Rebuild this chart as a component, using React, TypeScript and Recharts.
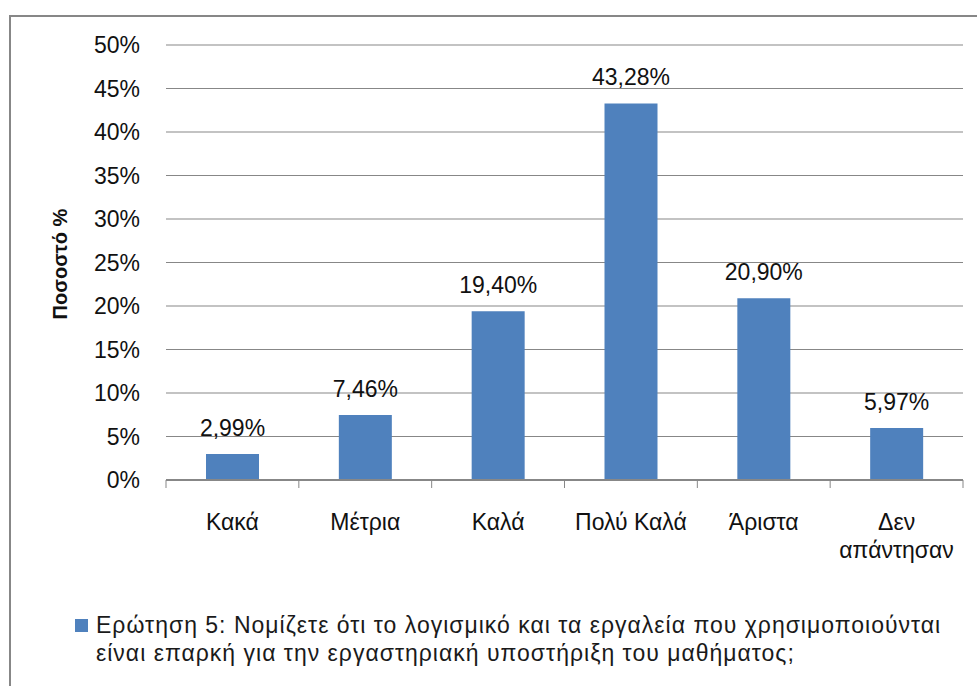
import React from 'react';
import {
  BarChart,
  Bar,
  XAxis,
  YAxis,
  CartesianGrid,
  LabelList,
} from 'recharts';

const categories = ['Κακά', 'Μέτρια', 'Καλά', 'Πολύ Καλά', 'Άριστα', 'Δεν απάντησαν'];
const percentages = [2.99, 7.46, 19.4, 43.28, 20.9, 5.97];
const yTicks = [0, 5, 10, 15, 20, 25, 30, 35, 40, 45, 50];
const seriesName =
  'Ερώτηση 5: Νομίζετε ότι το λογισμικό και τα εργαλεία που χρησιμοποιούνται είναι επαρκή για την εργαστηριακή υποστήριξη του μαθήματος;';
const yTitle = 'Ποσοστό %';

const data = categories.map((cat, i) => ({ cat, value: percentages[i] }));

const W = 977;
const H = 686;
const AXIS_W = 166;
const RIGHT = 14;
const BAND = (W - AXIS_W - RIGHT) / categories.length;
const FONT = '"Liberation Sans", Arial, sans-serif';
const GRID = '#878787';
const BLUE = '#4F81BD';

const fmt = (v: number) => v.toFixed(2).replace('.', ',') + '%';

// long labels go on two lines, like the original
const wrap = (s: string) => (s.length > 12 ? s.split(' ') : [s]);

function CategoryTick(props: any) {
  const { x, y, payload, index } = props;
  const left = x - BAND / 2;
  const lines = wrap(String(payload.value));
  return (
    <g>
      <line x1={left} x2={left} y1={y} y2={y + 8} stroke={GRID} strokeWidth={1} />
      {index === categories.length - 1 && (
        <line x1={x + BAND / 2} x2={x + BAND / 2} y1={y} y2={y + 8} stroke={GRID} strokeWidth={1} />
      )}
      <text
        x={x}
        y={y + 50}
        textAnchor="middle"
        fontSize={23}
        fontFamily={FONT}
        fill="#111"
      >
        {lines.map((ln, i) => (
          <tspan key={i} x={x} dy={i === 0 ? 0 : 28}>
            {ln}
          </tspan>
        ))}
      </text>
    </g>
  );
}

export default function App() {
  return (
    <div
      style={{
        position: 'absolute',
        left: 0,
        top: 0,
        width: W,
        height: H,
        overflow: 'hidden',
        background: '#fff',
      }}
    >
      <div
        style={{
          position: 'absolute',
          left: 9,
          top: 15,
          width: W,
          height: H,
          borderTop: `2px solid ${GRID}`,
          borderLeft: `2px solid ${GRID}`,
        }}
      />

      <div style={{ position: 'absolute', left: 0, top: 0 }}>
        <BarChart
          width={W}
          height={H}
          data={data}
          margin={{ top: 45, right: RIGHT, left: 0, bottom: 116 }}
        >
          <CartesianGrid vertical={false} stroke={GRID} strokeWidth={1} />

          <XAxis
            dataKey="cat"
            height={90}
            interval={0}
            axisLine={{ stroke: GRID, strokeWidth: 2 }}
            tickLine={false}
            tickSize={0}
            tickMargin={0}
            tick={<CategoryTick />}
          />

          <YAxis
            width={AXIS_W}
            domain={[0, 50]}
            ticks={yTicks}
            axisLine={false}
            tickLine={false}
            tickSize={0}
            tickMargin={26}
            tickFormatter={(v: number) => `${v}%`}
            tick={{ fontSize: 23, fontFamily: FONT, fill: '#111' }}
            label={{
              content: () => (
                <text
                  x={67}
                  y={264}
                  transform="rotate(-90, 67, 264)"
                  textAnchor="middle"
                  fontSize={20}
                  fontWeight="bold"
                  fontFamily={FONT}
                  fill="#111"
                >
                  {yTitle}
                </text>
              ),
            }}
          />

          <Bar dataKey="value" fill={BLUE} barSize={53} isAnimationActive={false}>
            <LabelList
              dataKey="value"
              position="top"
              offset={18}
              formatter={(v: any) => fmt(Number(v))}
              style={{ fontSize: 23, fontFamily: FONT, fill: '#111' }}
            />
          </Bar>
        </BarChart>
      </div>

      <div
        style={{
          position: 'absolute',
          left: 75,
          top: 611,
          display: 'flex',
          alignItems: 'flex-start',
          fontFamily: FONT,
          fontSize: 23,
          letterSpacing: 1,
          lineHeight: '28px',
          color: '#1a1a1a',
        }}
      >
        <div style={{ width: 13, height: 13, background: BLUE, marginTop: 8, marginRight: 8, flex: 'none' }} />
        <div style={{ width: 860 }}>{seriesName}</div>
      </div>
    </div>
  );
}
